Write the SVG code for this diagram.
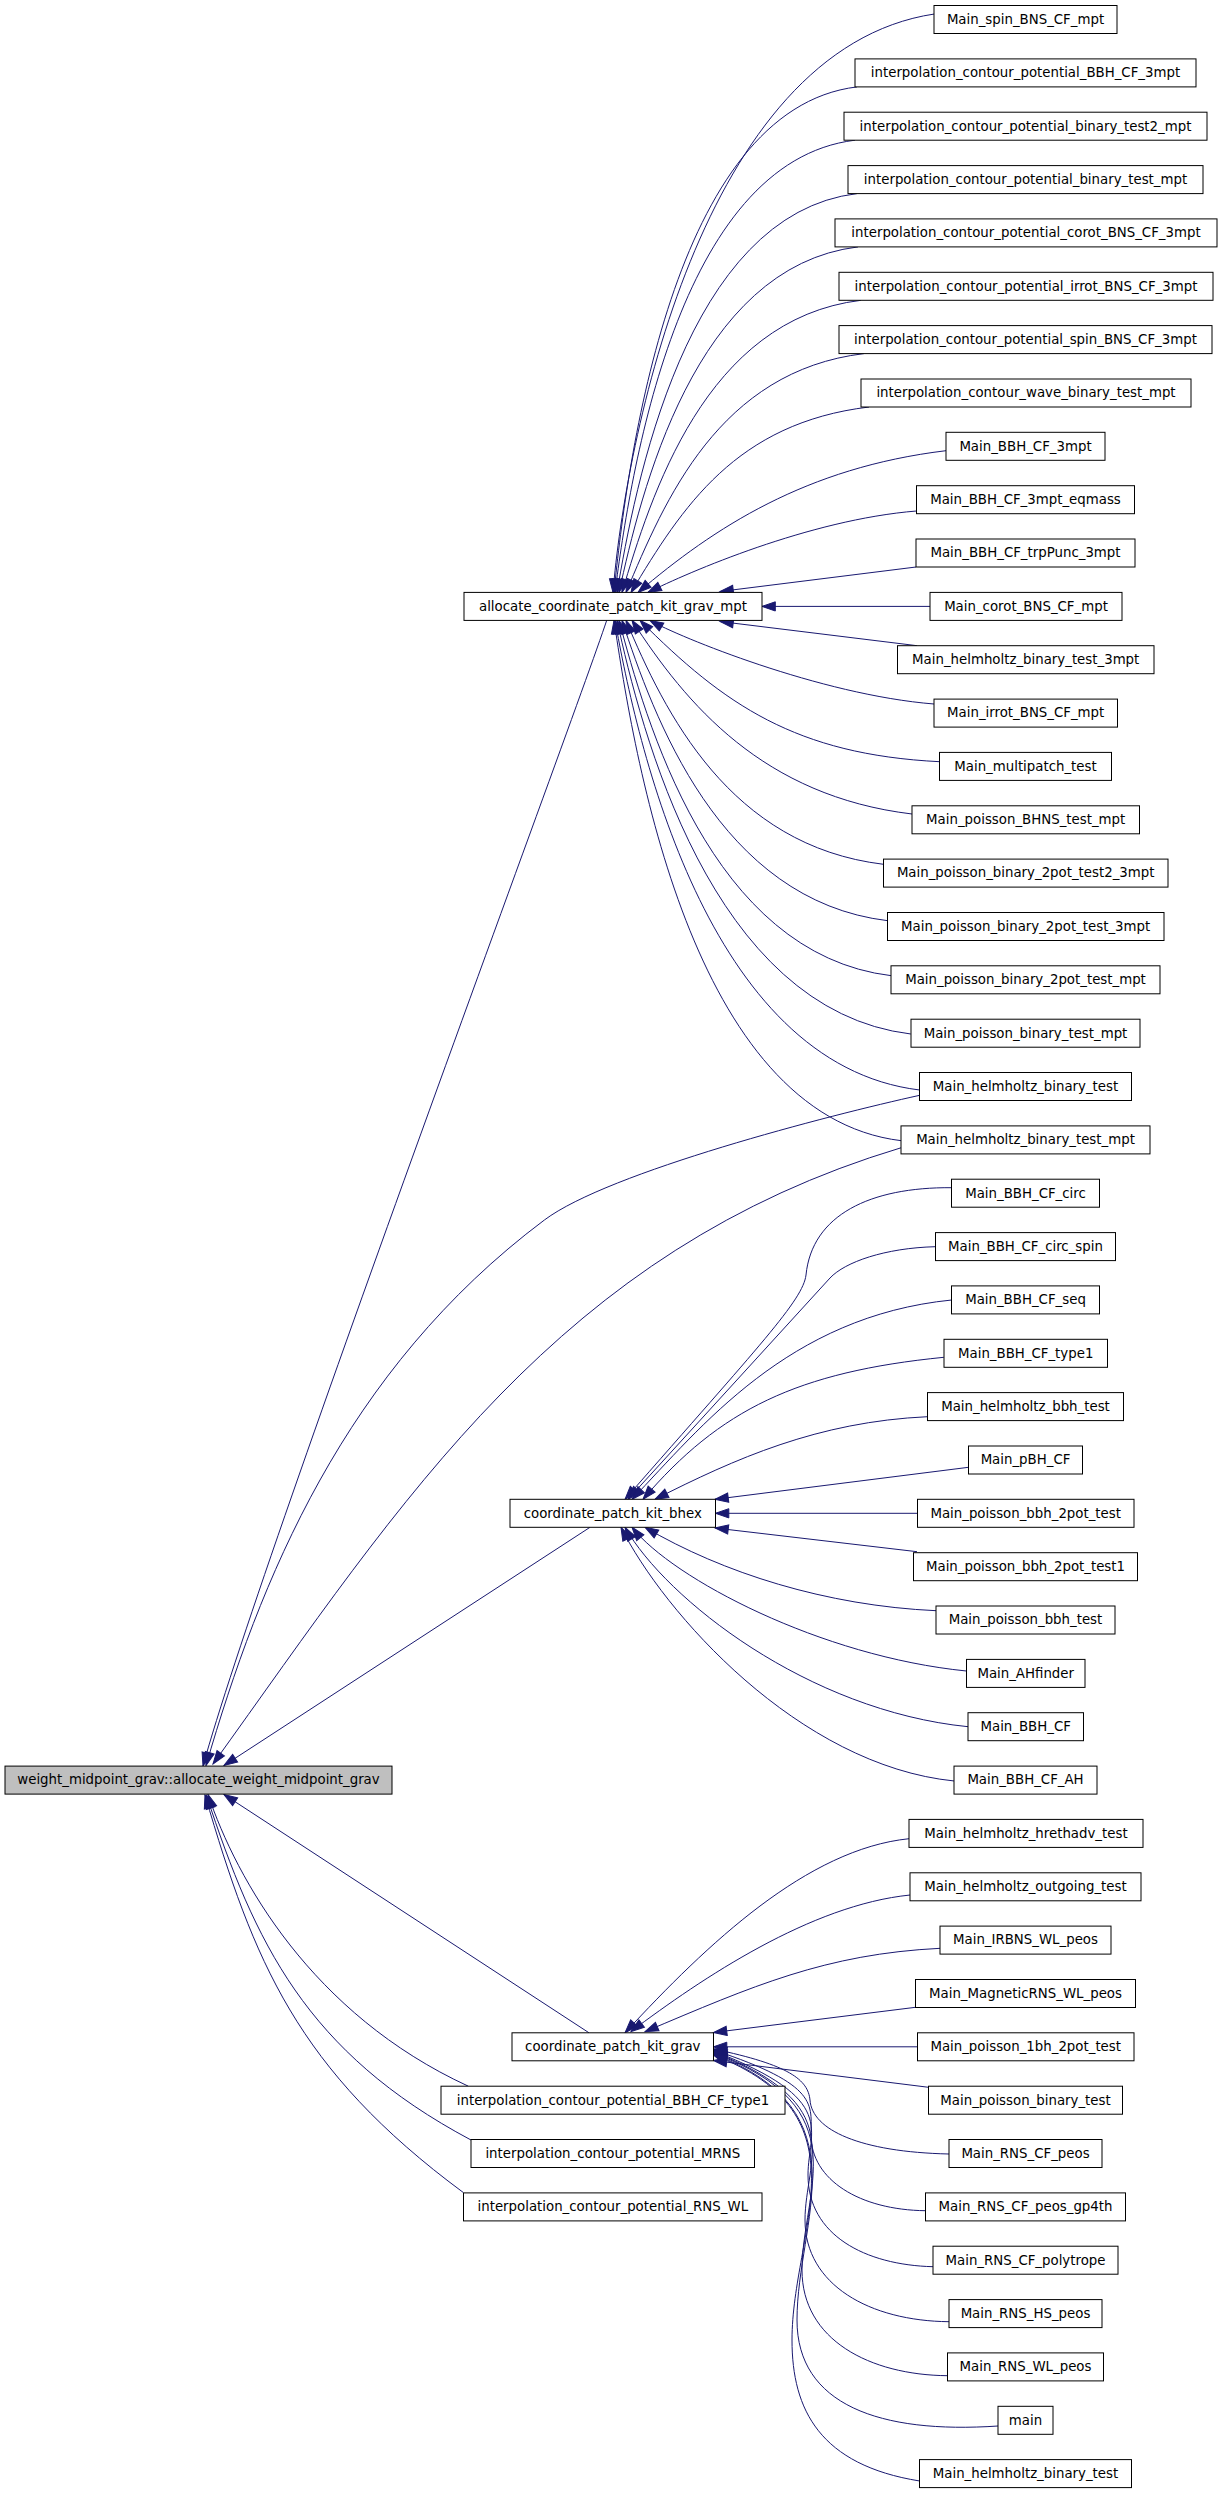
<svg xmlns="http://www.w3.org/2000/svg" width="1219" height="2493" viewBox="0 0 1219 2493">
<defs>
<marker id="ah" markerUnits="userSpaceOnUse" markerWidth="16" markerHeight="12" viewBox="-1 -6 16 12" refX="13.3" refY="0" orient="auto" overflow="visible">
<path d="M0,-4.6 L13.3,0 L0,4.6 Z" fill="#191970" stroke="#191970" stroke-width="1"/>
</marker>
<style>
.n rect{fill:#ffffff;stroke:#000000;stroke-width:1}
.n text{font-family:"DejaVu Sans","Liberation Sans",sans-serif;font-size:13.33px;text-anchor:middle;fill:#000000}
#root rect{fill:#bfbfbf}
.e path{fill:none;stroke:#191970;stroke-width:1;marker-end:url(#ah)}
</style>
</defs>
<rect x="0" y="0" width="1219" height="2493" fill="#ffffff"/>
<g id="edges" class="e">
<path d="M934.4,14 C700,49 624.7,446.8 613,592.4"/>
<path d="M857,86.9 C672,109 626.9,463.4 614,592.4"/>
<path d="M855,140.2 C677,161.6 630.1,476 615,592.4"/>
<path d="M857,193.6 C685,214.2 634.6,488.9 617,592.4"/>
<path d="M858,246.9 C694,266.6 640.5,494.7 619,592.4"/>
<path d="M861,300.3 C705,319 650.7,496.6 622,592.4"/>
<path d="M864,353.6 C719,371 664.7,500.2 626,592.4"/>
<path d="M869,407 C736,423 682.4,506.7 631,592.4"/>
<path d="M946,450.7 C806,467.5 714.2,527.6 638,592.4"/>
<path d="M916.5,511 C809.5,519.6 688.2,572.3 648,592.4"/>
<path d="M916,567 L720,591.5"/>
<path d="M930,606.4 L762,606.4"/>
<path d="M917,645.7 L720,621.5"/>
<path d="M934,704 C820,694.9 678.2,636.6 650,620.4"/>
<path d="M939.5,761.7 C795.8,754.5 724.4,704.8 640,620.4"/>
<path d="M912,814 C763,796.1 686.3,704.4 632,620.4"/>
<path d="M883.5,864.3 C729.5,845.8 664.7,712.6 626,620.4"/>
<path d="M887.7,920.7 C718.7,900.4 653.3,715.4 622,620.4"/>
<path d="M891.3,975.7 C709.3,953.9 645.1,716.9 619,620.4"/>
<path d="M910.8,1034 C709.8,1009.9 640.3,726.3 617,620.4"/>
<path d="M919.7,1090 C705.7,1064.3 636.5,739.8 615,620.4"/>
<path d="M901.3,1140.7 C690.3,1115.4 633.7,751.9 614,620.4"/>
<path d="M951.7,1187.7 C870,1187 812,1215 806,1275 C803,1300 760,1345 625,1499.3"/>
<path d="M935.4,1246.7 C885,1248 845,1262 830,1278 L628,1499.3"/>
<path d="M951.7,1300 C787.7,1316.4 701.2,1427.1 632,1499.3"/>
<path d="M943.8,1357.3 C797.7,1371.9 720,1409.2 643,1499.3"/>
<path d="M927.6,1416.7 C817.6,1421.7 735,1458.8 655,1499.3"/>
<path d="M968.5,1467.3 L715,1499.3"/>
<path d="M917.5,1513.3 L715.5,1513.3"/>
<path d="M917,1551.7 L715,1528"/>
<path d="M936,1610.7 C826,1605.7 722.6,1572.9 645,1527.3"/>
<path d="M966.4,1671 C821,1656.5 672.9,1578.8 632,1527.3"/>
<path d="M968,1726.7 C808,1710.7 666.3,1599.3 625,1527.3"/>
<path d="M954.3,1781 C798.3,1765.4 663.2,1611.8 621,1527.3"/>
<path d="M909.2,1838.7 C807.5,1848.9 707.8,1943.3 625,2032.8"/>
<path d="M910.2,1895 C810.9,1904.9 702,1978.2 631,2031.5"/>
<path d="M940.2,1948.3 C825.4,1954 752.9,1986 645,2031.7"/>
<path d="M915.5,2007.3 L713.5,2032.5"/>
<path d="M917.5,2046.8 L713.5,2046.8"/>
<path d="M928.6,2087.3 L713.5,2060.5"/>
<path d="M949,2154 C860,2152 812,2130 810,2100 C808,2080 790,2065 713.5,2049"/>
<path d="M925.5,2210.7 C860,2210 811,2180 811,2135 C811,2105 820,2085 713.5,2050"/>
<path d="M933,2266.7 C865,2265 808,2235 808,2175 C808,2130 840,2100 713.5,2051"/>
<path d="M949,2321.7 C870,2321 805,2285 805,2220 C805,2160 850,2105 713.5,2052"/>
<path d="M947.5,2375.7 C870,2375 802,2340 802,2270 C802,2190 860,2108 713.5,2053"/>
<path d="M998,2426 C880,2434 797,2405 797,2320 C797,2220 865,2112 713.5,2054"/>
<path d="M919.7,2481 C820,2465 792,2410 792,2340 C792,2230 870,2115 713.5,2055"/>
<path d="M606.7,620.4 C570,730 260,1560 203,1766"/>
<path d="M919.7,1095.3 C830,1115 608.4,1172 544.4,1220 C343.3,1370.8 259.9,1580.7 206,1765.5"/>
<path d="M901.3,1147.7 C558.1,1250.7 403.8,1498.7 213,1764"/>
<path d="M590,1527.3 L224,1765.5"/>
<path d="M589,2032.8 L224,1794.5"/>
<path d="M468.3,2086.2 C311.3,2013.8 236.6,1879.3 208,1794.5"/>
<path d="M471,2140 C305.8,2052.1 255,1942.8 206.5,1795.5"/>
<path d="M463.3,2192.5 C296.5,2069.1 254,1961.7 205,1795"/>
</g>
<g id="root" class="n"><rect x="5" y="1766.1" width="387" height="28"/><text x="198.5" y="1784.4">weight_midpoint_grav::allocate_weight_midpoint_grav</text></g>
<g id="allocate_coordinate_patch_kit_grav_mpt" class="n"><rect x="464" y="592.4" width="298" height="28"/><text x="613" y="610.7">allocate_coordinate_patch_kit_grav_mpt</text></g>
<g id="coordinate_patch_kit_bhex" class="n"><rect x="510" y="1499.3" width="205.5" height="28"/><text x="612.8" y="1517.6">coordinate_patch_kit_bhex</text></g>
<g id="coordinate_patch_kit_grav" class="n"><rect x="512" y="2032.8" width="201.5" height="28"/><text x="612.8" y="2051.1">coordinate_patch_kit_grav</text></g>
<g id="interpolation_contour_potential_BBH_CF_type1" class="n"><rect x="441" y="2086.2" width="344" height="28"/><text x="613" y="2104.5">interpolation_contour_potential_BBH_CF_type1</text></g>
<g id="interpolation_contour_potential_MRNS" class="n"><rect x="471" y="2139.5" width="283.5" height="28"/><text x="612.8" y="2157.8">interpolation_contour_potential_MRNS</text></g>
<g id="interpolation_contour_potential_RNS_WL" class="n"><rect x="463.5" y="2192.9" width="298.5" height="28"/><text x="612.8" y="2211.2">interpolation_contour_potential_RNS_WL</text></g>
<g id="r0" class="n"><rect x="934" y="5.5" width="183" height="28"/><text x="1025.5" y="23.8">Main_spin_BNS_CF_mpt</text></g>
<g id="r1" class="n"><rect x="855" y="58.9" width="341" height="28"/><text x="1025.5" y="77.2">interpolation_contour_potential_BBH_CF_3mpt</text></g>
<g id="r2" class="n"><rect x="844" y="112.2" width="363" height="28"/><text x="1025.5" y="130.5">interpolation_contour_potential_binary_test2_mpt</text></g>
<g id="r3" class="n"><rect x="848" y="165.6" width="355" height="28"/><text x="1025.5" y="183.9">interpolation_contour_potential_binary_test_mpt</text></g>
<g id="r4" class="n"><rect x="835" y="218.9" width="382" height="28"/><text x="1026" y="237.2">interpolation_contour_potential_corot_BNS_CF_3mpt</text></g>
<g id="r5" class="n"><rect x="839" y="272.3" width="374" height="28"/><text x="1026" y="290.6">interpolation_contour_potential_irrot_BNS_CF_3mpt</text></g>
<g id="r6" class="n"><rect x="839" y="325.6" width="373" height="28"/><text x="1025.5" y="343.9">interpolation_contour_potential_spin_BNS_CF_3mpt</text></g>
<g id="r7" class="n"><rect x="861" y="379" width="330" height="28"/><text x="1026" y="397.3">interpolation_contour_wave_binary_test_mpt</text></g>
<g id="r8" class="n"><rect x="946" y="432.3" width="159" height="28"/><text x="1025.5" y="450.6">Main_BBH_CF_3mpt</text></g>
<g id="r9" class="n"><rect x="916.5" y="485.7" width="218" height="28"/><text x="1025.5" y="504">Main_BBH_CF_3mpt_eqmass</text></g>
<g id="r10" class="n"><rect x="916" y="539" width="219" height="28"/><text x="1025.5" y="557.3">Main_BBH_CF_trpPunc_3mpt</text></g>
<g id="r11" class="n"><rect x="930" y="592.4" width="192" height="28"/><text x="1026" y="610.7">Main_corot_BNS_CF_mpt</text></g>
<g id="r12" class="n"><rect x="897.5" y="645.7" width="256.5" height="28"/><text x="1025.7" y="664">Main_helmholtz_binary_test_3mpt</text></g>
<g id="r13" class="n"><rect x="934" y="699.1" width="183.5" height="28"/><text x="1025.7" y="717.4">Main_irrot_BNS_CF_mpt</text></g>
<g id="r14" class="n"><rect x="939.5" y="752.4" width="172" height="28"/><text x="1025.5" y="770.7">Main_multipatch_test</text></g>
<g id="r15" class="n"><rect x="912" y="805.8" width="227.5" height="28"/><text x="1025.7" y="824.1">Main_poisson_BHNS_test_mpt</text></g>
<g id="r16" class="n"><rect x="883.5" y="859.1" width="284.5" height="28"/><text x="1025.7" y="877.4">Main_poisson_binary_2pot_test2_3mpt</text></g>
<g id="r17" class="n"><rect x="887.5" y="912.5" width="276.5" height="28"/><text x="1025.7" y="930.8">Main_poisson_binary_2pot_test_3mpt</text></g>
<g id="r18" class="n"><rect x="891" y="965.8" width="269" height="28"/><text x="1025.5" y="984.1">Main_poisson_binary_2pot_test_mpt</text></g>
<g id="r19" class="n"><rect x="911" y="1019.2" width="229" height="28"/><text x="1025.5" y="1037.5">Main_poisson_binary_test_mpt</text></g>
<g id="r20" class="n"><rect x="919.5" y="1072.5" width="212" height="28"/><text x="1025.5" y="1090.8">Main_helmholtz_binary_test</text></g>
<g id="r21" class="n"><rect x="901" y="1125.9" width="249" height="28"/><text x="1025.5" y="1144.2">Main_helmholtz_binary_test_mpt</text></g>
<g id="r22" class="n"><rect x="951.5" y="1179.2" width="148" height="28"/><text x="1025.5" y="1197.5">Main_BBH_CF_circ</text></g>
<g id="r23" class="n"><rect x="935.5" y="1232.6" width="180" height="28"/><text x="1025.5" y="1250.9">Main_BBH_CF_circ_spin</text></g>
<g id="r24" class="n"><rect x="951.5" y="1285.9" width="148" height="28"/><text x="1025.5" y="1304.2">Main_BBH_CF_seq</text></g>
<g id="r25" class="n"><rect x="944" y="1339.3" width="163.5" height="28"/><text x="1025.7" y="1357.6">Main_BBH_CF_type1</text></g>
<g id="r26" class="n"><rect x="927.5" y="1392.6" width="196" height="28"/><text x="1025.5" y="1410.9">Main_helmholtz_bbh_test</text></g>
<g id="r27" class="n"><rect x="968.5" y="1446" width="114" height="28"/><text x="1025.5" y="1464.3">Main_pBH_CF</text></g>
<g id="r28" class="n"><rect x="917.5" y="1499.3" width="216.5" height="28"/><text x="1025.7" y="1517.6">Main_poisson_bbh_2pot_test</text></g>
<g id="r29" class="n"><rect x="913.5" y="1552.7" width="224" height="28"/><text x="1025.5" y="1571">Main_poisson_bbh_2pot_test1</text></g>
<g id="r30" class="n"><rect x="936" y="1606" width="179" height="28"/><text x="1025.5" y="1624.3">Main_poisson_bbh_test</text></g>
<g id="r31" class="n"><rect x="966.5" y="1659.4" width="118.5" height="28"/><text x="1025.7" y="1677.7">Main_AHfinder</text></g>
<g id="r32" class="n"><rect x="968" y="1712.7" width="115.5" height="28"/><text x="1025.7" y="1731">Main_BBH_CF</text></g>
<g id="r33" class="n"><rect x="954" y="1766.1" width="143" height="28"/><text x="1025.5" y="1784.4">Main_BBH_CF_AH</text></g>
<g id="r34" class="n"><rect x="909" y="1819.4" width="234" height="28"/><text x="1026" y="1837.7">Main_helmholtz_hrethadv_test</text></g>
<g id="r35" class="n"><rect x="910" y="1872.8" width="231" height="28"/><text x="1025.5" y="1891.1">Main_helmholtz_outgoing_test</text></g>
<g id="r36" class="n"><rect x="940" y="1926.1" width="171" height="28"/><text x="1025.5" y="1944.4">Main_IRBNS_WL_peos</text></g>
<g id="r37" class="n"><rect x="915.5" y="1979.5" width="220" height="28"/><text x="1025.5" y="1997.8">Main_MagneticRNS_WL_peos</text></g>
<g id="r38" class="n"><rect x="917.5" y="2032.8" width="216.5" height="28"/><text x="1025.7" y="2051.1">Main_poisson_1bh_2pot_test</text></g>
<g id="r39" class="n"><rect x="928.5" y="2086.2" width="194" height="28"/><text x="1025.5" y="2104.5">Main_poisson_binary_test</text></g>
<g id="r40" class="n"><rect x="949" y="2139.5" width="153" height="28"/><text x="1025.5" y="2157.8">Main_RNS_CF_peos</text></g>
<g id="r41" class="n"><rect x="925.5" y="2192.9" width="200" height="28"/><text x="1025.5" y="2211.2">Main_RNS_CF_peos_gp4th</text></g>
<g id="r42" class="n"><rect x="933" y="2246.2" width="185" height="28"/><text x="1025.5" y="2264.5">Main_RNS_CF_polytrope</text></g>
<g id="r43" class="n"><rect x="949" y="2299.6" width="153" height="28"/><text x="1025.5" y="2317.9">Main_RNS_HS_peos</text></g>
<g id="r44" class="n"><rect x="947.5" y="2352.9" width="156" height="28"/><text x="1025.5" y="2371.2">Main_RNS_WL_peos</text></g>
<g id="r45" class="n"><rect x="998" y="2406.3" width="55" height="28"/><text x="1025.5" y="2424.6">main</text></g>
<g id="r46" class="n"><rect x="919.5" y="2459.6" width="212" height="28"/><text x="1025.5" y="2477.9">Main_helmholtz_binary_test</text></g>
</svg>
